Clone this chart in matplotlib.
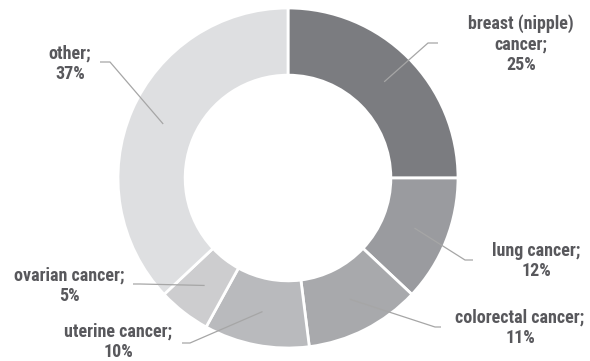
import matplotlib
matplotlib.use("Agg")
import matplotlib.pyplot as plt
from matplotlib import font_manager
import numpy as np

# Data
categories = ["breast (nipple)\ncancer", "lung cancer", "colorectal cancer",
              "uterine cancer", "ovarian cancer", "other"]
shares = [25, 12, 11, 10, 5, 37]
colors = ["#7b7c80", "#9a9b9f", "#a8a9ac", "#b9babd", "#cdcdcf", "#dedfe1"]

W, H = 590, 361
CX, CY, R = 288, 178, 170  # donut centre and outer radius in pixels (from top-left)

# Label layout in pixels: text centre, leader elbow, leader end
label_layout = [
    dict(text=(521, 44), elbow=(428, 43), end=(438, 43)),
    dict(text=(536, 261), elbow=(465, 260), end=(473, 260)),
    dict(text=(520, 328), elbow=(435, 327), end=(441, 327)),
    dict(text=(118, 342), elbow=(190, 343), end=(182, 343)),
    dict(text=(69, 286), elbow=(140, 284), end=(133, 284)),
    dict(text=(70, 64), elbow=(110, 62), end=(100, 62)),
]

available = {f.name for f in font_manager.fontManager.ttflist}
preferred = ["Liberation Sans Narrow", "DejaVu Sans Condensed", "Roboto Condensed",
             "Open Sans Condensed", "Lato", "Roboto"]
family = [next(f for f in preferred + ["DejaVu Sans"] if f in available), "DejaVu Sans"]


def to_data(p):
    return ((p[0] - CX) / R, (CY - p[1]) / R)


fig = plt.figure(figsize=(W / 100, H / 100), dpi=100)
ax = fig.add_axes([(CX - R) / W, (H - CY - R) / H, 2 * R / W, 2 * R / H])

wedges, _ = ax.pie(shares, colors=colors, startangle=90, counterclock=False,
                   radius=1.0, wedgeprops=dict(width=0.395, edgecolor="white", linewidth=2))
ax.set_xlim(-1, 1)
ax.set_ylim(-1, 1)
ax.axis("off")

for w, cat, val, lay in zip(wedges, categories, shares, label_layout):
    mid = np.deg2rad((w.theta1 + w.theta2) / 2)
    start = (0.8 * np.cos(mid), 0.8 * np.sin(mid))
    ex, ey = to_data(lay["elbow"])
    nx, ny = to_data(lay["end"])
    ax.plot([start[0], ex, nx], [start[1], ey, ny], color="#a6a6a6", lw=0.9,
            clip_on=False, solid_capstyle="butt")
    tx, ty = to_data(lay["text"])
    ax.text(tx, ty, f"{cat};\n{val}%", ha="center", va="center", fontsize=13,
            fontweight="bold", color="#58585c", family=family, linespacing=1.2,
            clip_on=False)

fig.savefig("out.png", dpi=100, facecolor="white")
